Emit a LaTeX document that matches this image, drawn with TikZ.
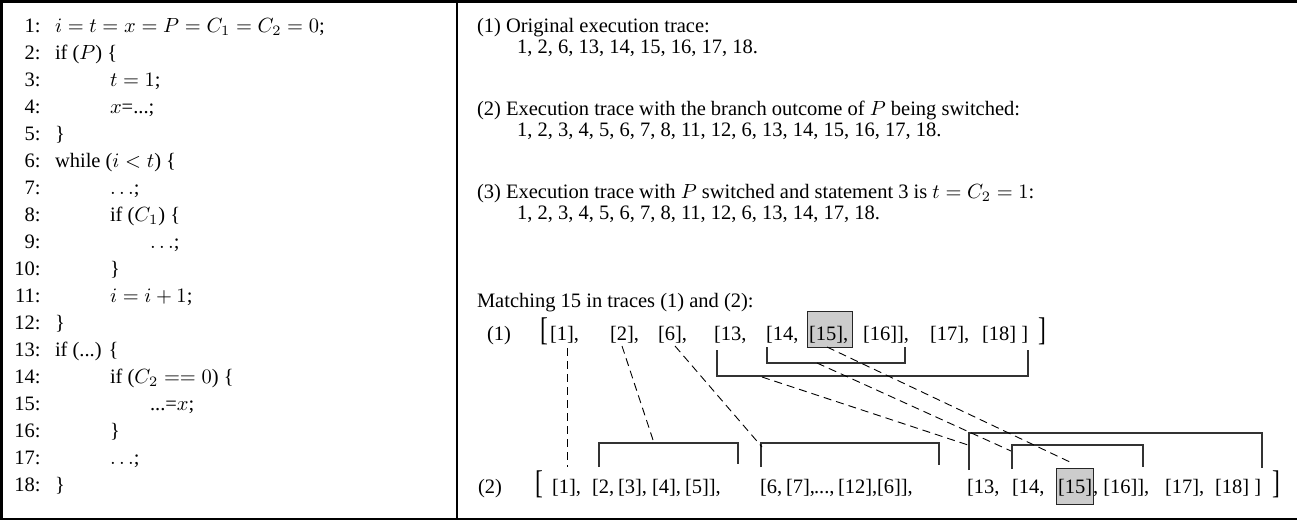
\documentclass[tikz,border=0pt]{standalone}
\usepackage[no-math]{fontspec}
\usepackage{graphicx}
\setmainfont{Liberation Serif}
% text is set at 10pt and enlarged, so the math keeps its 10pt design
\newcommand\sz[1]{\scalebox{2.05}{#1}}
\newcommand\bigopen{\scalebox{1.15}[1.6]{[}}
\newcommand\bigclose{\scalebox{1.15}[1.6]{]}}

\begin{document}
\begin{tikzpicture}[x=1pt,y=-1pt,
  font=\fontsize{10}{12}\selectfont,
  txt/.style={anchor=base west, inner sep=0pt, outer sep=0pt},
  num/.style={anchor=base east, inner sep=0pt, outer sep=0pt},
  frame/.style={line width=2.6pt, black},
  bracket/.style={line width=1.2pt, black!80},
  link/.style={line width=0.9pt, black, dash pattern=on 8pt off 5pt},
  hilite/.style={fill=black!20, draw=black!85, line width=1pt}]

\useasboundingbox (0,0) rectangle (1297,522);

% frame of the two panels
\draw[frame] (1297,1.5) -- (1.5,1.5) -- (1.5,519) -- (1297,519);
\draw[frame] (457,1.5) -- (457,519);

% ---------- program listing ----------
\def\ya{32}\def\dy{27.05}
\def\xa{55}\def\xb{110}\def\xc{150}
\node[num] (n1)  at (40.5,{\ya+0*\dy}) {\sz{1:}};
\node[num] (n2)  at (40.5,{\ya+1*\dy}) {\sz{2:}};
\node[num] (n3)  at (40.5,{\ya+2*\dy}) {\sz{3:}};
\node[num] (n4)  at (40.5,{\ya+3*\dy}) {\sz{4:}};
\node[num] (n5)  at (40.5,{\ya+4*\dy}) {\sz{5:}};
\node[num] (n6)  at (40.5,{\ya+5*\dy}) {\sz{6:}};
\node[num] (n7)  at (40.5,{\ya+6*\dy}) {\sz{7:}};
\node[num] (n8)  at (40.5,{\ya+7*\dy}) {\sz{8:}};
\node[num] (n9)  at (40.5,{\ya+8*\dy}) {\sz{9:}};
\node[num] (n10) at (40.5,{\ya+9*\dy}) {\sz{10:}};
\node[num] (n11) at (40.5,{\ya+10*\dy}) {\sz{11:}};
\node[num] (n12) at (40.5,{\ya+11*\dy}) {\sz{12:}};
\node[num] (n13) at (40.5,{\ya+12*\dy}) {\sz{13:}};
\node[num] (n14) at (40.5,{\ya+13*\dy}) {\sz{14:}};
\node[num] (n15) at (40.5,{\ya+14*\dy}) {\sz{15:}};
\node[num] (n16) at (40.5,{\ya+15*\dy}) {\sz{16:}};
\node[num] (n17) at (40.5,{\ya+16*\dy}) {\sz{17:}};
\node[num] (n18) at (40.5,{\ya+17*\dy}) {\sz{18:}};

\node[txt] (c1)  at (\xa,{\ya+0*\dy})  {\sz{$i = t = x = P = C_1 = C_2 = 0$;}};
\node[txt] (c2)  at (\xa,{\ya+1*\dy})  {\sz{if ($P$) \{}};
\node[txt] (c3)  at (\xb,{\ya+2*\dy})  {\sz{$t = 1$;}};
\node[txt] (c4)  at (\xb,{\ya+3*\dy})  {\sz{$x$=...;}};
\node[txt] (c5)  at (\xa,{\ya+4*\dy})  {\sz{\}}};
\node[txt] (c6)  at (\xa,{\ya+5*\dy})  {\sz{while ($i < t$) \{}};
\node[txt] (c7)  at (\xb,{\ya+6*\dy})  {\sz{$\ldots$;}};
\node[txt] (c8)  at (\xb,{\ya+7*\dy})  {\sz{if ($C_1$) \{}};
\node[txt] (c9)  at (\xc,{\ya+8*\dy})  {\sz{$\ldots$;}};
\node[txt] (c10) at (\xb,{\ya+9*\dy})  {\sz{\}}};
\node[txt] (c11) at (\xb,{\ya+10*\dy}) {\sz{$i = i + 1$;}};
\node[txt] (c12) at (\xa,{\ya+11*\dy}) {\sz{\}}};
\node[txt] (c13) at (\xa,{\ya+12*\dy}) {\sz{if (...) \{}};
\node[txt] (c14) at (\xb,{\ya+13*\dy}) {\sz{if ($C_2 == 0$) \{}};
\node[txt] (c15) at (\xc,{\ya+14*\dy}) {\sz{...=$x$;}};
\node[txt] (c16) at (\xb,{\ya+15*\dy}) {\sz{\}}};
\node[txt] (c17) at (\xb,{\ya+16*\dy}) {\sz{$\ldots$;}};
\node[txt] (c18) at (\xa,{\ya+17*\dy}) {\sz{\}}};

% ---------- execution traces ----------
\node[txt] (h1) at (477,32)  {\sz{(1) Original execution trace:}};
\node[txt] (t1) at (517,53)  {\sz{1, 2, 6, 13, 14, 15, 16, 17, 18.}};
\node[txt] (h2) at (477,115) {\sz{(2) Execution trace with the branch outcome of $P$ being switched:}};
\node[txt] (t2) at (517,136) {\sz{1, 2, 3, 4, 5, 6, 7, 8, 11, 12, 6, 13, 14, 15, 16, 17, 18.}};
\node[txt] (h3) at (477,198) {\sz{(3) Execution trace with $P$ switched and statement 3 is $t = C_2 = 1$:}};
\node[txt] (t3) at (517,219) {\sz{1, 2, 3, 4, 5, 6, 7, 8, 11, 12, 6, 13, 14, 17, 18.}};

\node[txt] (mt) at (477,307) {\sz{Matching 15 in traces (1) and (2):}};

% highlighted statement 15 in both traces
\draw[hilite] (807,311) rectangle (852,347);
\draw[hilite] (1056,468) rectangle (1093,504);

% ---------- trace (1) ----------
\def\ra{340}
\node[txt] (l1)   at (487,\ra) {\sz{(1)}};
\node[txt] (ob1)  at (540,\ra) {\sz{\bigopen}};
\node[txt] (a1)   at (550,\ra) {\sz{[1],}};
\node[txt] (a2)   at (610,\ra) {\sz{[2],}};
\node[txt] (a6)   at (658,\ra) {\sz{[6],}};
\node[txt] (a13)  at (714,\ra) {\sz{[13,}};
\node[txt] (a14)  at (766,\ra) {\sz{[14,}};
\node[txt] (a15)  at (809,\ra) {\sz{[15],}};
\node[txt] (a16)  at (863,\ra) {\sz{[16]],}};
\node[txt] (a17)  at (930,\ra) {\sz{[17],}};
\node[txt] (a18)  at (982,\ra) {\sz{[18] ]}};
\node[txt] (cb1)  at (1038,\ra) {\sz{\bigclose}};

% ---------- trace (2) ----------
\def\rb{493}
\node[txt] (l2)   at (478,\rb) {\sz{(2)}};
\node[txt] (ob2)  at (535,\rb) {\sz{\bigopen}};
\node[txt] (b1)   at (552,\rb) {\sz{[1],}};
\node[txt] (b2)   at (592,\rb) {\sz{[2,}};
\node[txt] (b3)   at (618,\rb) {\sz{[3],}};
\node[txt] (b4)   at (652,\rb) {\sz{[4],}};
\node[txt] (b5)   at (685,\rb) {\sz{[5]],}};
\node[txt] (b6)   at (760,\rb) {\sz{[6,}};
\node[txt] (b7)   at (786,\rb) {\sz{[7],}};
\node[txt] (bdot) at (814,\rb) {\sz{...,}};
\node[txt] (b12)  at (838,\rb) {\sz{[12],}};
\node[txt] (b6b)  at (877,\rb) {\sz{[6]],}};
\node[txt] (b13)  at (967,\rb) {\sz{[13,}};
\node[txt] (b14)  at (1012,\rb) {\sz{[14,}};
\node[txt] (b15)  at (1058,\rb) {\sz{[15]}};
\node[txt] (b16)  at (1093,\rb) {\sz{, [16]],}};
\node[txt] (b17)  at (1165,\rb) {\sz{[17],}};
\node[txt] (b18)  at (1215,\rb) {\sz{[18] ]}};
\node[txt] (cb2)  at (1272,\rb) {\sz{\bigclose}};

% nesting brackets under trace (1)
\coordinate (p14l) at (767,347);  \coordinate (p14r) at (905,347);
\coordinate (p13l) at (717,350);  \coordinate (p13r) at (1028,350);
\draw[bracket] (p14l) -- (767,363) -- (905,363) -- (p14r);
\draw[bracket] (p13l) -- (717,376) -- (1028,376) -- (p13r);

% nesting brackets over trace (2)
\coordinate (q2l) at (599,467);   \coordinate (q2r) at (738,464);
\coordinate (q6l) at (761,467);   \coordinate (q6r) at (939,465);
\coordinate (q13l) at (969,470);  \coordinate (q13r) at (1262,468);
\coordinate (q14l) at (1012,469); \coordinate (q14r) at (1143,467);
\draw[bracket] (q2l) -- (599,443) -- (738,443) -- (q2r);
\draw[bracket] (q6l) -- (761,443) -- (939,443) -- (q6r);
\draw[bracket] (q13l) -- (969,433) -- (1262,433) -- (q13r);
\draw[bracket] (q14l) -- (1012,445) -- (1143,445) -- (q14r);

% alignment links between the two traces
\coordinate (s1)  at (567,348);  \coordinate (e1)  at (567,467);
\coordinate (s2)  at (622,346);  \coordinate (e2)  at (654,443);
\coordinate (s6)  at (675,346);  \coordinate (e6)  at (762,447);
\coordinate (s13) at (762,377);  \coordinate (e13) at (968,445);
\coordinate (s14) at (817,363);  \coordinate (e14) at (1011,451);
\coordinate (s15) at (827,347);  \coordinate (e15) at (1072,463);
\draw[link] (s1) -- (e1);
\draw[link] (s2) -- (e2);
\draw[link] (s6) -- (e6);
\draw[link] (s13) -- (e13);
\draw[link] (s14) -- (e14);
\draw[link] (s15) -- (e15);
\end{tikzpicture}
\end{document}
